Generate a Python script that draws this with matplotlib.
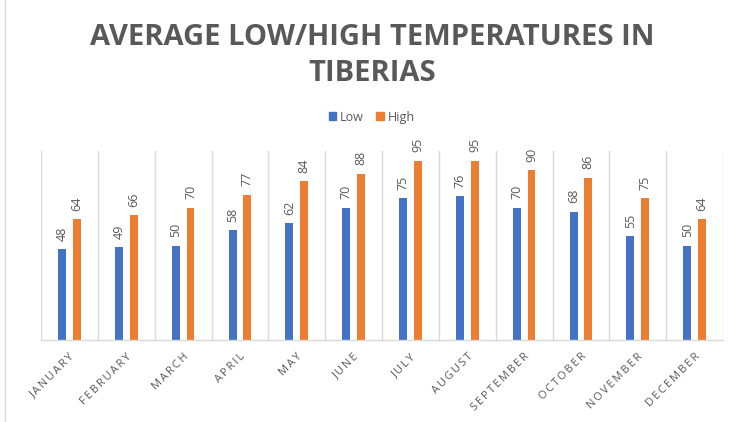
import numpy as np
import matplotlib
matplotlib.use("Agg")
import matplotlib.pyplot as plt
from matplotlib.patches import Patch

months = ["JANUARY", "FEBRUARY", "MARCH", "APRIL", "MAY", "JUNE",
          "JULY", "AUGUST", "SEPTEMBER", "OCTOBER", "NOVEMBER", "DECEMBER"]
low = [48, 49, 50, 58, 62, 70, 75, 76, 70, 68, 55, 50]
high = [64, 66, 70, 77, 84, 88, 95, 95, 90, 86, 75, 64]

BLUE = "#4472C4"
ORANGE = "#ED7D31"
GREY = "#595959"
GRID = "#D9D9D9"

plt.rcParams['font.family'] = ['Open Sans', 'DejaVu Sans']

fig = plt.figure(figsize=(7.35, 4.22), dpi=100)
ax = fig.add_axes([0.0558, 0.1943, 0.9279, 0.4477])

x = np.arange(len(months))
w = 0.14
b1 = ax.bar(x - 0.13, low, w, color=BLUE)
b2 = ax.bar(x + 0.13, high, w, color=ORANGE)

for bars, vals in ((b1, low), (b2, high)):
    for r, v in zip(bars, vals):
        ax.annotate(str(v), (r.get_x() + r.get_width() / 2, r.get_height()),
                    xytext=(0, 6), textcoords="offset points",
                    rotation=90, ha="center", va="bottom",
                    fontsize=9, color=GREY)

# excel-style letter spacing on the category labels
spaced = ["\u2009".join(m) for m in months]

ax.set_xlim(-0.5, len(months) - 0.5)
ax.set_ylim(0, 100)
ax.set_yticks([])
ax.set_xticks(x)
ax.set_xticklabels(spaced, rotation=45, ha="right", rotation_mode="anchor",
                   fontsize=8, color=GREY)
ax.tick_params(axis="x", length=0, pad=8)

for s in ("top", "left", "right"):
    ax.spines[s].set_visible(False)
ax.spines["bottom"].set_color(GRID)
ax.spines["bottom"].set_linewidth(1)

for b in np.arange(-0.5, len(months), 1.0):
    ax.axvline(b, color=GRID, linewidth=1, zorder=0)

fig.text(0.506, 0.912, "AVERAGE LOW/HIGH TEMPERATURES IN", ha="center",
         va="center", fontsize=21, fontweight="bold", color=GREY)
fig.text(0.506, 0.827, "TIBERIAS", ha="center", va="center",
         fontsize=21, fontweight="bold", color=GREY)

handles = [Patch(color=BLUE, label="Low"), Patch(color=ORANGE, label="High")]
fig.legend(handles=handles, loc="center", bbox_to_anchor=(0.506, 0.722),
           ncol=2, frameon=False, fontsize=9, handlelength=0.6,
           handleheight=0.6, handletextpad=0.3, columnspacing=1.0,
           labelcolor=GREY)

# left border of the chart area
fig.add_artist(plt.Line2D([0.007, 0.007], [0.0, 1.0], color=GRID, linewidth=1))

fig.savefig("out.png", dpi=100)
